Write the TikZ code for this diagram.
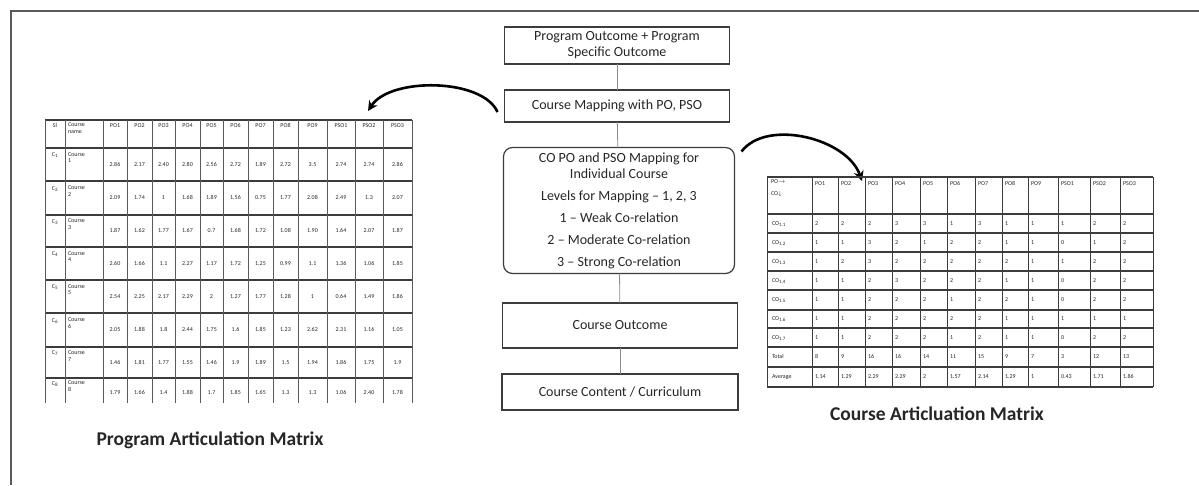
\documentclass[tikz,border=0pt]{standalone}
\usepackage{fontspec}
\setmainfont{Carlito}
\usetikzlibrary{arrows.meta}
\definecolor{c3c3c3c}{RGB}{60,60,60}
\definecolor{c5a5a5a}{RGB}{90,90,90}
\definecolor{c8c8c8c}{RGB}{140,140,140}
\definecolor{c262626}{RGB}{38,38,38}

\tikzset{
  flowbox/.style={draw=c3c3c3c,line width=1.2pt,text=c262626,align=center,
    font=\fontsize{14}{16}\selectfont},
  flowlink/.style={draw=c8c8c8c,line width=0.8pt},
  bigarc/.style={draw=black,line width=2.6pt,-{Stealth[length=10pt,width=10pt]}},
  hrule/.style={draw=c3c3c3c,line width=1.3pt},
  vrule/.style={draw=c5a5a5a,line width=0.8pt},
  celltext/.style={text=c262626,font=\fontsize{6}{6.6}\selectfont,
    text height=4.2pt,text depth=1.2pt},
  camtext/.style={celltext,anchor=west},
  cellblock/.style={celltext,text height=,text depth=,align=left,
    anchor=north west},
  matrixtitle/.style={text=c262626,font=\fontsize{19.5}{22}\selectfont\bfseries}
}
\def\pamcols{{115,139.5,163.5,187.5,211.5,235.5,260.5,285.5,312.5,341,369,397.5}}
\def\camcols{{815,841,868,895,923,950,978,1005,1031,1061,1093,1123}}

\begin{document}
\begin{tikzpicture}[x=1pt,y=1pt,yscale=-1,inner sep=0pt,outer sep=0pt]
\useasboundingbox (0,0) rectangle (1199,485);
  \path[draw=c5a5a5a,line width=1.2pt] (11,485) -- (11,11) -- (1199,11);

  \node[flowbox,minimum width=225pt,minimum height=37pt] (pobox) at (617,45.5)
    {Program Outcome + Program\\Specific Outcome};
  \node[flowbox,minimum width=225pt,minimum height=32pt] (mapbox) at (617,106)
    {Course Mapping with PO, PSO};
  \node[flowbox,rounded corners=9pt,minimum width=231pt,minimum height=126pt]
    (levelbox) at (619,210.5) {CO PO and PSO Mapping for\\Individual Course\\[6pt]
    Levels for Mapping – 1, 2, 3\\[6pt]1 – Weak Co-relation\\[6pt]
    2 – Moderate Co-relation\\[6pt]3 – Strong Co-relation};
  \node[flowbox,minimum width=235pt,minimum height=45pt] (outbox) at (620,325.5)
    {Course Outcome};
  \node[flowbox,minimum width=236pt,minimum height=36pt] (contentbox) at (620,392)
    {Course Content / Curriculum};

  \path[flowlink] (pobox) -- (mapbox);
  \path[flowlink] (mapbox) -- (levelbox);
  \path[flowlink] (levelbox) -- (outbox);
  \path[flowlink] (outbox) -- (contentbox);

  \coordinate (pamtip) at (368,111);
  \coordinate (camtip) at (862,181);
  \path[bigarc] ([xshift=-7pt,yshift=6pt]mapbox.west) .. controls +(-15,-34)
    and +(22,-34) .. (pamtip);
  \path[bigarc] ([xshift=7pt,yshift=4pt]levelbox.north east) .. controls
    +(25,-33) and +(-15,-43) .. (camtip);

  % program articulation matrix
  \foreach \y in {120,148,181,215,247,280,313,347,378}
    \path[hrule] (45,\y) -- (412,\y);
  \foreach \x in {45,65,103,127,152,175,200,223,248,273,298,327,355,383,412}
    \path[vrule] (\x,120) -- (\x,403);
  \node[celltext,anchor=north] (pamsl) at (55,123) {Sl};
  \node[cellblock] (pamname) at (68,123) {Course\\name};
  \foreach \h [count=\k] in {PO1,PO2,PO3,PO4,PO5,PO6,PO7,PO8,PO9,PSO1,PSO2,PSO3}{
    \pgfmathsetmacro{\cx}{\pamcols[\k-1]}
    \node[celltext,anchor=north] (pamh\k) at (\cx,123) {\h};
  }
  \foreach \ry/\vals [count=\r] in {
    164.5/{2.86,2.17,2.40,2.80,2.56,2.72,1.89,2.72,3.5,2.74,2.74,2.86},
    198/{2.09,1.74,1,1.68,1.89,1.56,0.75,1.77,2.08,2.49,1.3,2.07},
    231/{1.87,1.62,1.77,1.67,0.7,1.68,1.72,1.08,1.90,1.64,2.07,1.87},
    263.5/{2.60,1.66,1.1,2.27,1.17,1.72,1.25,0.99,1.1,1.36,1.06,1.85},
    296.5/{2.54,2.25,2.17,2.29,2,1.27,1.77,1.28,1,0.64,1.49,1.86},
    330/{2.05,1.88,1.8,2.44,1.75,1.6,1.85,1.23,2.62,2.31,1.16,1.05},
    362.5/{1.46,1.81,1.77,1.55,1.46,1.9,1.89,1.5,1.94,1.86,1.75,1.9},
    393/{1.79,1.66,1.4,1.88,1.7,1.85,1.65,1.3,1.3,1.06,2.40,1.78}}{
    \node[celltext,anchor=north] (pamc\r) at (55,\ry-12) {C\textsubscript{\r}};
    \node[cellblock] (pamn\r) at (68,\ry-12) {Course\\\r};
    \foreach \v [count=\k] in \vals {
      \pgfmathsetmacro{\cx}{\pamcols[\k-1]}
      \node[celltext] (pam\r-\k) at (\cx,\ry) {\v};
    }
  }
  \node[matrixtitle] (pamtitle) at (210,440) {Program Articulation Matrix};

  % course articulation matrix
  \foreach \y in {177,214,233,252,271,290,310,328,347,367,387}
    \path[hrule] (767,\y) -- (1153,\y);
  \foreach \x in {767,812,838,865,892,920,947,975,1002,1028,1058,1090,1120,1153}
    \path[hrule,line width=1pt] (\x,177) -- (\x,387);
  \node[cellblock] (camhead) at (771,180) {PO$\rightarrow$\\[5pt]CO$\downarrow$};
  \foreach \h [count=\k] in {PO1,PO2,PO3,PO4,PO5,PO6,PO7,PO8,PO9,PSO1,PSO2,PSO3}{
    \pgfmathsetmacro{\cx}{\camcols[\k-1]}
    \node[camtext,anchor=north west] (camh\k) at (\cx,181) {\h};
  }
  \foreach \ry/\lab/\vals [count=\r] in {
    223.5/CO\textsubscript{1.1}/{2,2,2,3,3,1,3,1,1,1,2,2},
    242.5/CO\textsubscript{1.2}/{1,1,3,2,1,2,2,1,1,0,1,2},
    261.5/CO\textsubscript{1.3}/{1,2,3,2,2,2,2,2,1,1,2,2},
    280.5/CO\textsubscript{1.4}/{1,1,2,3,2,2,2,1,1,0,2,2},
    300/CO\textsubscript{1.5}/{1,1,2,2,2,1,2,2,1,0,2,2},
    319/CO\textsubscript{1.6}/{1,1,2,2,2,2,2,1,1,1,1,1},
    337.5/CO\textsubscript{1.7}/{1,1,2,2,2,1,2,1,1,0,2,2},
    357/Total/{8,9,16,16,14,11,15,9,7,3,12,13},
    377/Average/{1.14,1.29,2.29,2.29,2,1.57,2.14,1.29,1,0.43,1.71,1.86}}{
    \node[camtext] (caml\r) at (772,\ry) {\lab};
    \foreach \v [count=\k] in \vals {
      \pgfmathsetmacro{\cx}{\camcols[\k-1]}
      \node[camtext] (cam\r-\k) at (\cx,\ry) {\v};
    }
  }
  \node[matrixtitle] (camtitle) at (937,414) {Course Articluation Matrix};
\end{tikzpicture}
\end{document}
